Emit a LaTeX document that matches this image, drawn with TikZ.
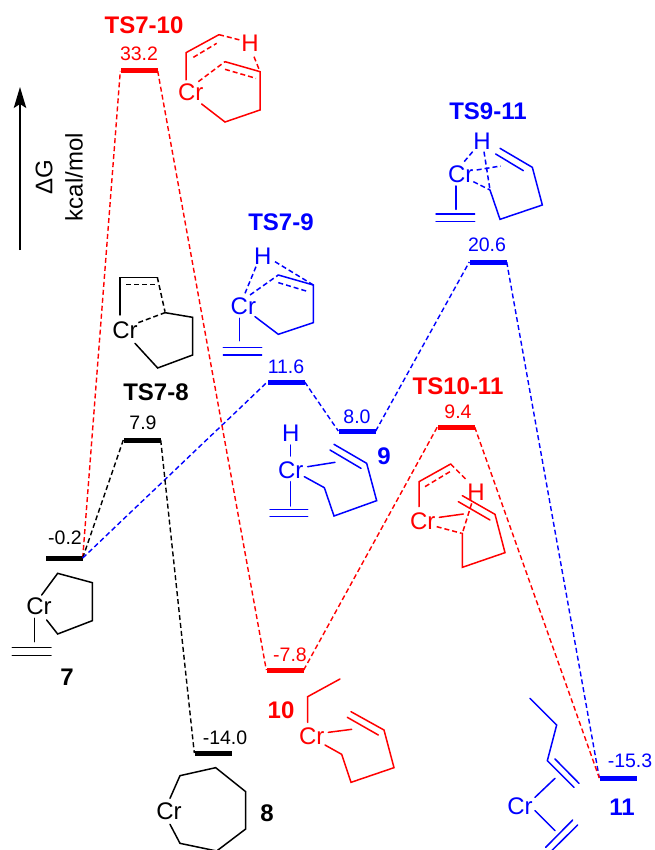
\documentclass[tikz,border=0pt]{standalone}
\usepackage{fontspec}
\setmainfont{Liberation Sans}
\usetikzlibrary{arrows.meta}
\definecolor{tsred}{RGB}{255,0,0}
\definecolor{tsblue}{RGB}{0,0,255}
\tikzset{
  level/.style={rectangle,fill=#1,inner sep=0pt,minimum width=37pt,minimum height=5pt},
  conn/.style={#1,line width=1.4pt,dash pattern=on 5pt off 3pt},
  bond/.style={line width=1.5pt,line cap=round,line join=miter},
  weak/.style={line width=1.5pt,dash pattern=on 5pt off 3pt},
  val/.style={text=#1,font=\fontsize{19.5}{21}\selectfont,inner sep=0pt},
  tit/.style={text=#1,font=\fontsize{24}{26}\selectfont\bfseries,inner sep=0pt},
  atom/.style={text=#1,font=\fontsize{24}{26}\selectfont,inner sep=0pt},
  zm/.style={x=.33333pt,y=-.33333pt}
}
\begin{document}
\begin{tikzpicture}[x=1pt,y=-1pt]
\useasboundingbox (0,0) rectangle (654,850);
\fill[white] (0,0) rectangle (654,850);
\clip (0,0) rectangle (654,850);
% levels
\node[level=black] (L7) at (64,558) {};
\node[level=black] (L78) at (142,440) {};
\node[level=tsred] (L710) at (139,71) {};
\node[level=tsblue] (L79) at (286,382) {};
\node[level=tsblue] (L9) at (357,431) {};
\node[level=tsblue] (L911) at (488,262) {};
\node[level=tsred] (L1011) at (456,427) {};
\node[level=tsred] (L10) at (285,670) {};
\node[level=black] (L8) at (213,753) {};
\node[level=tsblue] (L11) at (618,778) {};
% connectors
\draw[conn=tsred] (L7.east) -- (L710.west);
\draw[conn=black] (L7.east) -- (L78.west);
\draw[conn=tsblue] (L7.east) -- (L79.west);
\draw[conn=tsred] (L710.east) -- (L10.west);
\draw[conn=black] (L78.east) -- (L8.west);
\draw[conn=tsblue] (L79.east) -- (L9.west);
\draw[conn=tsblue] (L9.east) -- (L911.west);
\draw[conn=tsblue] (L911.east) -- (L11.west);
\draw[conn=tsred] (L10.east) -- (L1011.west);
\draw[conn=tsred] (L1011.east) -- (L11.west);
% axis
\coordinate (axA) at (20,250);
\coordinate (axB) at (20,87);
\draw[line width=1.4pt,-{Stealth[length=21pt,width=12.5pt,inset=4pt]}] (axA) -- (axB);
\node[rotate=90,font=\fontsize{24}{26}\selectfont,inner sep=0pt] (dG) at (44,177) {ΔG};
\node[rotate=90,font=\fontsize{24}{26}\selectfont,inner sep=0pt] (unit) at (74,177) {kcal/mol};
% values and titles
\node[val=tsred] (v710) at (139,54) {33.2};
\node[tit=tsred] (t710) at (144,25) {TS7-10};
\node[val=black] (v78) at (143,423) {7.9};
\node[tit=black] (t78) at (156,392) {TS7-8};
\node[val=tsblue] (v79) at (286,367) {11.6};
\node[tit=tsblue] (t79) at (281,222) {TS7-9};
\node[val=tsblue] (v9) at (357,417) {8.0};
\node[tit=tsblue] (n9) at (384,456) {9};
\node[val=tsblue] (v911) at (487,245) {20.6};
\node[tit=tsblue] (t911) at (488,111) {TS9-11};
\node[val=tsred] (v1011) at (458,412) {9.4};
\node[tit=tsred] (t1011) at (458,386) {TS10-11};
\node[val=black] (v7) at (65,538) {-0.2};
\node[tit=black] (n7) at (67,677) {7};
\node[val=black] (v8) at (225,738) {-14.0};
\node[tit=black] (n8) at (267,813) {8};
\node[val=tsred] (v10) at (290,655) {-7.8};
\node[tit=tsred] (n10) at (281,710) {10};
\node[val=tsblue] (v11) at (630,761) {-15.3};
\node[tit=tsblue] (n11) at (622,807) {11};
% TS7-10
\begin{scope}[tsred,zm]
\node[atom=tsred] (crA) at (572,278) {Cr};
\node[atom=tsred] (hA) at (750,130) {H};
\draw[bond] (558,240) -- (558,158) -- (657,104);
\draw[weak] (657,104) -- (720,120);
\draw[weak] (762,170) -- (780,215);
\draw[weak] (580,172) -- (650,130);
\draw[weak] (595,245) -- (675,185);
\draw[bond] (675,185) -- (780,215) -- (780,330) -- (675,366) -- (605,312);
\draw[weak] (675,208) -- (768,235);
\end{scope}
% TS7-8
\begin{scope}[zm]
\node[atom=black] (crB) at (375,992) {Cr};
\draw[bond] (360,945) -- (360,832) -- (472,832);
\draw[weak] (472,832) -- (495,935);
\draw[weak] (378,854) -- (470,854);
\draw[weak] (415,968) -- (495,938);
\draw[bond] (495,938) -- (578,952) -- (578,1065) -- (473,1104) -- (405,1030);
\end{scope}
% TS7-9
\begin{scope}[tsblue,zm]
\node[atom=tsblue] (crC) at (730,918) {Cr};
\node[atom=tsblue] (hC) at (788,768) {H};
\draw[weak] (768,800) -- (735,880);
\draw[weak] (825,785) -- (940,855);
\draw[weak] (750,885) -- (835,825);
\draw[bond] (835,825) -- (940,855) -- (940,968) -- (835,1003) -- (765,950);
\draw[weak] (835,848) -- (925,875);
\draw[bond] (718,955) -- (718,1022);
\draw[bond] (670,1042) -- (785,1042);
\draw[bond] (670,1065) -- (785,1065);
\end{scope}
% TS9-11
\begin{scope}[shift={(330,80)},tsblue,zm]
\node[atom=tsblue] (crD) at (392,282) {Cr};
\node[atom=tsblue] (hD) at (456,185) {H};
\draw[weak] (428,215) -- (400,248);
\draw[weak] (462,215) -- (480,330);
\draw[weak] (440,270) -- (512,258);
\draw[weak] (430,305) -- (480,330);
\draw[bond] (480,330) -- (510,418) -- (637,375) -- (607,262) -- (510,205);
\draw[bond] (497,222) -- (580,272);
\draw[bond] (378,318) -- (378,388);
\draw[bond] (318,402) -- (434,402);
\draw[bond] (318,424) -- (434,424);
\end{scope}
% 7
\begin{scope}[shift={(0,425)},zm]
\node[atom=black] (crE) at (117,543) {Cr};
\draw[bond] (125,510) -- (173,445) -- (277,473) -- (277,587) -- (173,627) -- (140,585);
\draw[bond] (103,580) -- (103,650);
\draw[bond] (37,668) -- (153,668);
\draw[bond] (37,692) -- (153,692);
\end{scope}
% 8
\begin{scope}[shift={(0,425)},zm]
\node[atom=black] (crF) at (507,1160) {Cr};
\draw[bond] (510,1120) -- (540,1052) -- (647,1028) -- (737,1100) -- (737,1212) -- (650,1278) -- (540,1255) -- (510,1198);
\end{scope}
% 9
\begin{scope}[shift={(260,410)},tsblue,zm]
\node[atom=tsblue] (crG) at (92,180) {Cr};
\node[atom=tsblue] (hG) at (92,70) {H};
\draw[bond] (92,105) -- (92,138);
\draw[bond] (92,215) -- (92,288);
\draw[bond] (30,298) -- (143,298);
\draw[bond] (30,320) -- (143,320);
\draw[bond] (143,170) -- (225,157);
\draw[bond] (133,200) -- (193,233) -- (222,318) -- (350,272) -- (320,160) -- (222,103);
\draw[bond] (210,120) -- (303,175);
\end{scope}
% TS10-11
\begin{scope}[shift={(330,425)},tsred,zm]
\node[atom=tsred] (crH) at (278,288) {Cr};
\node[atom=tsred] (hH) at (438,202) {H};
\draw[bond] (267,245) -- (267,170) -- (362,117);
\draw[weak] (362,117) -- (410,165);
\draw[weak] (285,185) -- (360,140);
\draw[bond] (328,277) -- (400,267);
\draw[weak] (320,305) -- (395,325);
\draw[weak] (425,235) -- (397,325);
\draw[bond] (397,325) -- (397,427) -- (525,383) -- (495,268) -- (397,212);
\draw[bond] (385,230) -- (480,285);
\end{scope}
% 10
\begin{scope}[shift={(260,660)},tsred,zm]
\node[atom=tsred] (crI) at (155,230) {Cr};
\draw[bond] (143,187) -- (143,110) -- (240,57);
\draw[bond] (205,217) -- (275,208);
\draw[bond] (195,255) -- (245,283) -- (273,367) -- (402,323) -- (372,210) -- (273,155);
\draw[bond] (262,172) -- (355,225);
\end{scope}
% 11
\begin{scope}[shift={(500,690)},tsblue,zm]
\node[atom=tsblue] (crJ) at (60,350) {Cr};
\draw[bond] (90,25) -- (170,105) -- (142,212) -- (222,292);
\draw[bond] (165,207) -- (237,280);
\draw[bond] (105,322) -- (165,265);
\draw[bond] (105,362) -- (165,422);
\draw[bond] (137,472) -- (218,390);
\draw[bond] (155,482) -- (233,405);
\end{scope}
\end{tikzpicture}
\end{document}
